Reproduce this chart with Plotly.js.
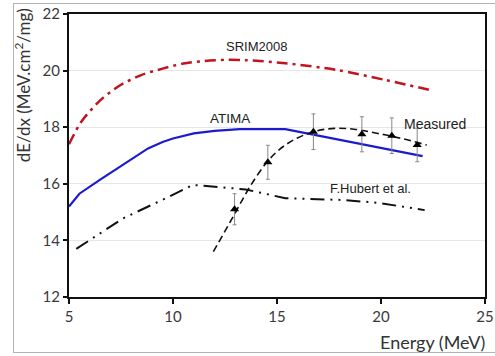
<!DOCTYPE html>
<html>
<head>
<meta charset="utf-8">
<script src="https://cdn.plot.ly/plotly-3.0.1.min.js"></script>
<style>
  html, body { margin: 0; padding: 0; background: #fff; }
  #wrap { position: relative; width: 495px; height: 356px; overflow: hidden; }
  #chart { width: 495px; height: 356px; }
  #frame { position: absolute; left: 13px; top: 3px; width: 500px; height: 348px;
           border: 1.5px solid #b4b4b4; border-right: none; pointer-events: none; }
</style>
</head>
<body>
<div id="wrap">
  <div id="chart"></div>
  <div id="frame"></div>
</div>
<script>
// SRIM2008 calculation
const srimE = [5, 5.6, 6.5, 7.5, 8.5, 9.5, 10.5, 11.5, 12.5, 13.5, 15.4, 17.9, 20.2, 22.5];
const srimS = [17.4, 18.2, 18.95, 19.5, 19.85, 20.07, 20.25, 20.34, 20.38, 20.37, 20.26, 20.02, 19.67, 19.29];

// ATIMA calculation
const atimaE = [5, 5.5, 6.5, 7.1, 8, 8.8, 9.5, 10, 11, 12, 13.2, 15.4, 22];
const atimaS = [15.2, 15.65, 16.15, 16.43, 16.85, 17.25, 17.48, 17.6, 17.78, 17.87, 17.93, 17.93, 16.98];

// F.Hubert et al.
const hubertE = [5.35, 7.6, 9.8, 10.95, 12.9, 13.5, 15.4, 18.1, 19.85, 22.1];
const hubertS = [13.7, 14.78, 15.54, 15.96, 15.84, 15.8, 15.49, 15.43, 15.33, 15.07];

// Measured fit curve
const fitE = [11.94, 12.9, 13.7, 14.5, 15.1, 15.8, 16.75, 17.76, 18.7, 19.85, 21, 22.2];
const fitS = [13.6, 14.85, 15.9, 16.75, 17.2, 17.55, 17.84, 17.96, 17.93, 17.78, 17.6, 17.37];

// Measured data points
const measE = [12.96, 14.56, 16.75, 19.08, 20.52, 21.74];
const measS = [15.1, 16.76, 17.84, 17.75, 17.7, 17.37];
const measErr = [0.55, 0.6, 0.63, 0.62, 0.63, 0.59];

// Labels
const labelText = ["SRIM2008", "ATIMA", "Measured", "F.Hubert et al."];
const labelE = [14.0, 12.72, 22.6, 19.5];
const labelS = [20.84, 18.31, 18.11, 15.84];
const labelSize = [13, 13.5, 14, 13];

const xTicks = [5, 10, 15, 20, 25];
const yTicks = [12, 14, 16, 18, 20, 22];

const traces = [
  { x: srimE, y: srimS, mode: 'lines', line: { color: '#c0141e', width: 2.5, dash: '11px,5px,3px,5px', shape: 'spline', smoothing: 0.8 }, hoverinfo: 'skip' },
  { x: atimaE, y: atimaS, mode: 'lines', line: { color: '#1c1ccc', width: 2.2 }, hoverinfo: 'skip' },
  { x: hubertE, y: hubertS, mode: 'lines', line: { color: '#111', width: 2, dash: '14px,6px,2px,6px,2px,6px' }, hoverinfo: 'skip' },
  { x: fitE, y: fitS, mode: 'lines', line: { color: '#111', width: 1.6, dash: '7px,4px', shape: 'spline' }, hoverinfo: 'skip' },
  { x: measE, y: measS, mode: 'markers',
    marker: { symbol: 'triangle-up', size: 8, color: '#000' },
    error_y: { type: 'data', array: measErr, visible: true, color: '#888', thickness: 1, width: 2 },
    hoverinfo: 'skip' }
];

const annotations = labelText.map((t, i) => ({
  x: labelE[i], y: labelS[i], xref: 'x', yref: 'y', text: t, showarrow: false,
  font: { family: 'Liberation Sans, Arial, sans-serif', size: labelSize[i], color: '#222' },
  xanchor: 'center', yanchor: 'middle'
}));
annotations.push({
  xref: 'paper', yref: 'paper', x: -0.112, y: 0.75, text: 'dE/dx (MeV.cm<sup>2</sup>/mg)',
  textangle: -90, showarrow: false, xanchor: 'center', yanchor: 'middle',
  font: { family: 'Lato, sans-serif', size: 17, color: '#333' }
});
annotations.push({
  xref: 'paper', yref: 'paper', x: 1.005, y: -0.158, text: 'Energy (MeV)',
  showarrow: false, xanchor: 'right', yanchor: 'middle',
  font: { family: 'Lato, sans-serif', size: 18, color: '#333' }
});

const layout = {
  width: 495, height: 356,
  margin: { l: 69, r: 10, t: 14, b: 59 },
  paper_bgcolor: '#fff', plot_bgcolor: '#fff',
  showlegend: false,
  xaxis: {
    range: [5, 25], tickvals: xTicks, ticktext: xTicks.map(String),
    showgrid: false, zeroline: false,
    showline: true, linecolor: '#111', linewidth: 2, mirror: true,
    ticks: 'outside', ticklen: 5, tickwidth: 2, tickcolor: '#111',
    tickfont: { family: 'Lato, sans-serif', size: 15, color: '#3a3a3a' }
  },
  yaxis: {
    range: [12, 22], tickvals: yTicks, ticktext: yTicks.map(String),
    showgrid: true, gridcolor: '#e6e6e6', gridwidth: 1, zeroline: false,
    showline: true, linecolor: '#111', linewidth: 2, mirror: true,
    ticks: 'outside', ticklen: 4, tickwidth: 2, tickcolor: '#111',
    tickfont: { family: 'Lato, sans-serif', size: 15, color: '#3a3a3a' }
  },
  annotations: annotations
};

Plotly.newPlot('chart', traces, layout, { staticPlot: true, displayModeBar: false });
</script>
</body>
</html>
